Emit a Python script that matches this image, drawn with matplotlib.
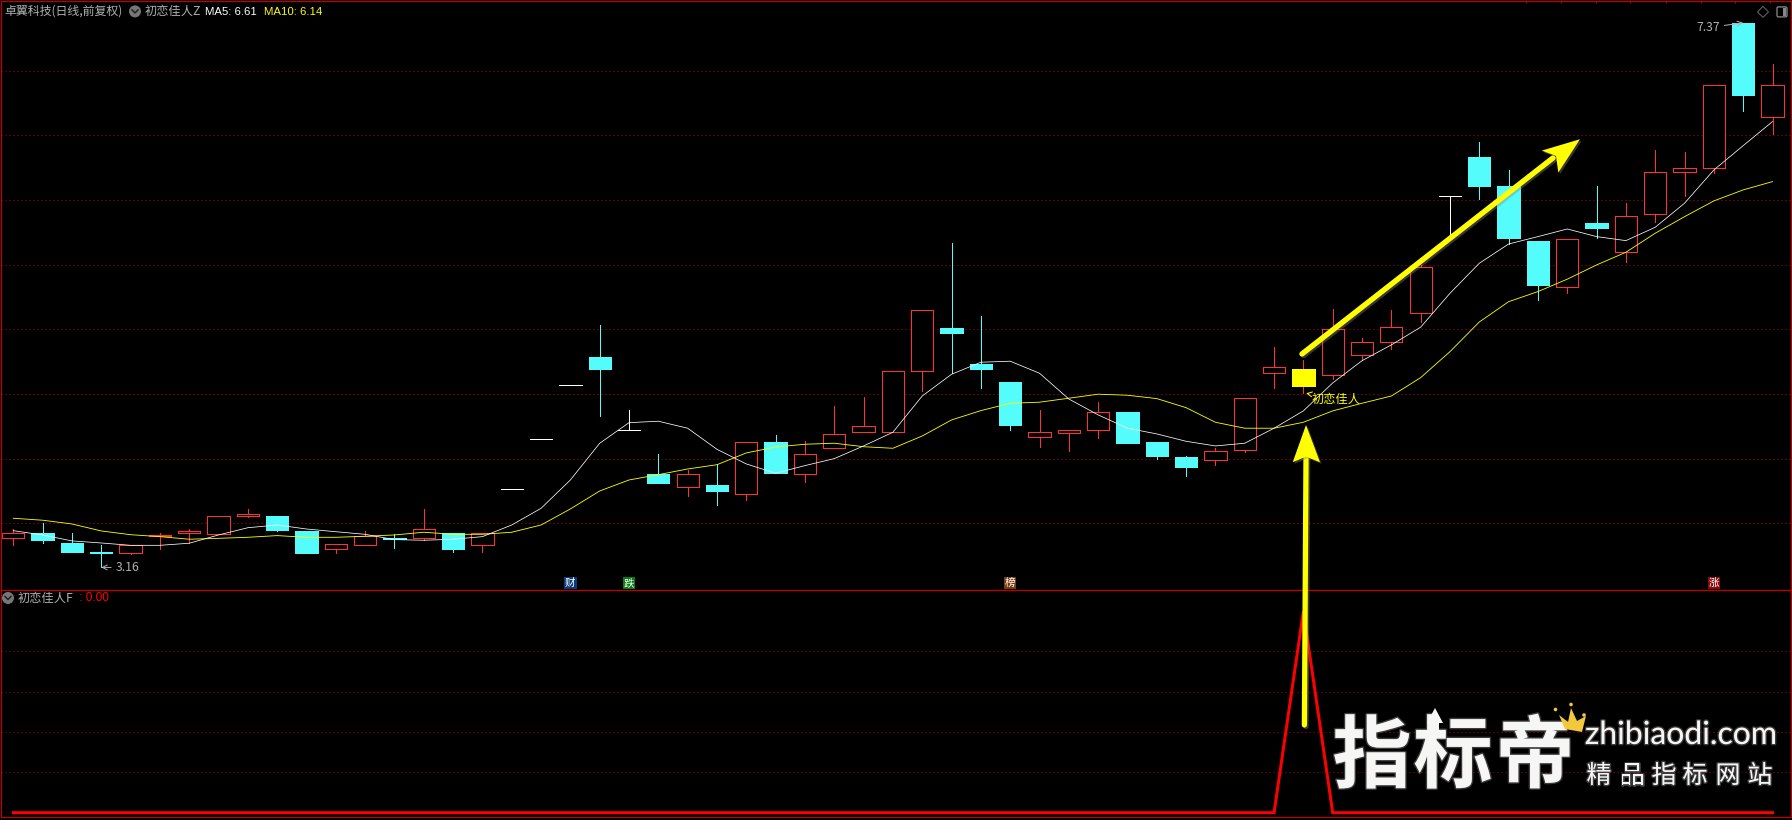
import numpy as np
import matplotlib
matplotlib.use('Agg')
import matplotlib.pyplot as plt
from matplotlib.patches import Polygon, Circle, Rectangle, FancyBboxPatch
import matplotlib.patheffects as pe

plt.rcParams['font.family'] = ['Noto Sans CJK SC', 'DejaVu Sans']

#---- chart data
opens = [3.39, 3.43, 3.35, 3.28, 3.27, 3.40, 3.43, 3.42, 3.56, 3.56,
         3.44, 3.30, 3.33, 3.39, 3.39, 3.43, 3.33, 3.77, 4.15, 4.57,
         4.79, 4.22, 3.88, 3.78, 3.80, 3.73, 4.13, 3.88, 4.08, 4.21,
         4.21, 4.68, 5.01, 4.73, 4.59, 4.17, 4.20, 4.22, 4.36, 4.13,
         4.01, 3.99, 4.07, 4.66, 4.69, 4.65, 4.80, 4.90, 5.13, 6.03,
         6.33, 6.11, 5.68, 5.33, 5.82, 5.60, 5.89, 6.22, 6.25, 7.37,
         6.64]
closes = [3.43, 3.37, 3.28, 3.27, 3.33, 3.41, 3.44, 3.56, 3.57, 3.45,
          3.27, 3.34, 3.40, 3.38, 3.46, 3.30, 3.43, 3.77, 4.15, 4.57,
          4.69, 4.22, 3.81, 3.88, 3.75, 4.13, 3.89, 4.04, 4.19, 4.25,
          4.68, 5.15, 4.97, 4.69, 4.26, 4.21, 4.22, 4.36, 4.12, 4.02,
          3.94, 4.06, 4.47, 4.71, 4.56, 5.00, 4.90, 5.02, 5.48, 6.03,
          6.11, 5.71, 5.34, 5.70, 5.78, 5.88, 6.22, 6.25, 6.89, 6.81,
          6.89]
highs = [3.46, 3.50, 3.43, 3.33, 3.33, 3.43, 3.46, 3.56, 3.61, 3.56,
         3.44, 3.34, 3.44, 3.42, 3.61, 3.43, 3.43, 3.77, 4.15, 4.57,
         5.03, 4.38, 4.04, 3.91, 3.96, 4.13, 4.18, 4.14, 4.41, 4.48,
         4.68, 5.15, 5.67, 5.10, 4.59, 4.38, 4.22, 4.44, 4.36, 4.13,
         4.02, 4.08, 4.47, 4.86, 4.76, 5.16, 4.93, 5.15, 5.50, 6.03,
         6.45, 6.23, 5.68, 5.70, 6.11, 5.98, 6.39, 6.37, 6.89, 7.37,
         7.05]
lows = [3.33, 3.35, 3.28, 3.16, 3.26, 3.30, 3.35, 3.42, 3.55, 3.44,
        3.27, 3.27, 3.33, 3.31, 3.37, 3.28, 3.28, 3.77, 4.15, 4.57,
        4.33, 4.22, 3.81, 3.71, 3.64, 3.68, 3.89, 3.82, 4.08, 4.21,
        4.21, 4.52, 4.66, 4.55, 4.22, 4.09, 4.06, 4.16, 4.12, 4.00,
        3.87, 3.95, 4.05, 4.55, 4.51, 4.62, 4.76, 4.85, 5.06, 5.72,
        6.01, 5.66, 5.23, 5.28, 5.71, 5.52, 5.83, 6.03, 6.21, 6.69,
        6.51]
ma5 = [3.444, 3.411, 3.365, 3.349, 3.331, 3.331, 3.347, 3.411, 3.467, 3.488,
       3.457, 3.436, 3.416, 3.375, 3.370, 3.378, 3.398, 3.488, 3.617, 3.836,
       4.120, 4.279, 4.290, 4.236, 4.073, 3.960, 3.888, 3.947, 4.001, 4.099,
       4.205, 4.485, 4.653, 4.746, 4.754, 4.661, 4.462, 4.339, 4.236, 4.192,
       4.135, 4.099, 4.120, 4.236, 4.370, 4.586, 4.758, 4.880, 5.017, 5.279,
       5.511, 5.660, 5.717, 5.776, 5.717, 5.686, 5.789, 5.975, 6.232, 6.420,
       6.606]
ma10 = [3.540, 3.525, 3.496, 3.442, 3.413, 3.398, 3.378, 3.385, 3.393, 3.406,
        3.393, 3.393, 3.401, 3.411, 3.432, 3.416, 3.416, 3.432, 3.488, 3.612,
        3.751, 3.836, 3.877, 3.921, 3.954, 4.045, 4.091, 4.112, 4.120, 4.093,
        4.081, 4.176, 4.300, 4.372, 4.429, 4.437, 4.468, 4.499, 4.491, 4.465,
        4.395, 4.282, 4.236, 4.236, 4.282, 4.370, 4.429, 4.485, 4.627, 4.828,
        5.057, 5.214, 5.292, 5.388, 5.498, 5.596, 5.743, 5.871, 5.993, 6.078,
        6.142]
signal = [0] * 61
signal[44] = 1

tag_idx = [19, 21, 34, 58]
tag_text = ['财', '跌', '榜', '涨']
tag_bg = ['#0a3a78', '#0a7a10', '#7a3a10', '#8a0a0a']

W, H = 1792, 820
RED = '#ff3232'
CYAN = '#54fcfc'
YEL = '#ffff00'
FRAME = '#c00000'
PX = 0.72  # one pixel in points at dpi 100


def px_axes(left, top, right, bottom):
    return fig.add_axes([left / W, 1 - bottom / H, (right - left) / W, (bottom - top) / H])


fig = plt.figure(figsize=(W / 100, (H + 0.1) / 100), dpi=100, facecolor='black')
ax = px_axes(1, 1.5, 1791, 590.3)
ax2 = px_axes(1, 590.3, 1791, 817.3)

x = np.arange(len(opens))
xlim = ((1 - 13.3) / 29.32, (1791 - 13.3) / 29.32)

for a in (ax, ax2):
    a.set_facecolor('black')
    a.set_xlim(*xlim)
    a.tick_params(length=0, labelleft=False, labelbottom=False)
    a.set_xticks([])
    for s in a.spines.values():
        s.set_color(FRAME)
        s.set_linewidth(PX * 1.2)
    a.set_axisbelow(True)

ax.set_ylim(7.5465 - 0.00773 * 590.3, 7.5465 - 0.00773 * 1.5)
ax.set_yticks(np.arange(3.5, 7.5, 0.5))
ax.grid(axis='y', color=FRAME, ls=(0, (1, 3)), lw=PX)

ax2.set_ylim(-4.6 / 201.5, 222.4 / 201.5)
ax2.set_yticks([0.2, 0.4, 0.6, 0.8])
ax2.grid(axis='y', color='#a80000', ls=(0, (1, 3)), lw=PX)

#---- candles
sig_i = int(np.argmax(signal))
edge, face = [], []
for i in x:
    if i == sig_i:
        edge.append(YEL); face.append(YEL)
    elif opens[i] == closes[i]:
        edge.append('white'); face.append('white')
    elif closes[i] > opens[i]:
        edge.append(RED); face.append('black')
    else:
        edge.append(CYAN); face.append(CYAN)

wick = [RED if i == sig_i else e for i, e in zip(x, edge)]
ax.vlines(x, lows, highs, colors=wick, lw=PX * 0.95, zorder=2, antialiased=False)
bot = np.minimum(opens, closes)
hgt = np.abs(np.array(closes) - np.array(opens))
ax.bar(x, hgt, bottom=bot, width=0.76, facecolor=face, edgecolor=edge,
       linewidth=PX * 0.95, zorder=2.5, antialiased=False)

# thin lines: aliased strokes come out heavy, so keep them under one pixel
ax.plot(x, ma10, color=YEL, lw=PX * 0.85, zorder=3)
ax.plot(x, ma5, color='white', lw=PX * 0.75, zorder=3.1)

#---- tags above the divider
for i, t, c in zip(tag_idx, tag_text, tag_bg):
    ax.text(i, 3.04, t, color='white', fontsize=7.6, ha='center', va='center', zorder=5,
            bbox=dict(boxstyle='square,pad=0.1', fc=c, ec='none'))

#---- high / low / signal labels
GREY = '#b0b0b0'
ax.annotate('3.16', xy=(3, lows[3]), xytext=(14, 0), textcoords='offset pixels',
            color=GREY, fontsize=8.8, va='center', ha='left',
            arrowprops=dict(arrowstyle='->', color=GREY, lw=PX, shrinkA=1, shrinkB=0))
ax.annotate('7.37', xy=(59, highs[59]), xytext=(-23, -5), textcoords='offset pixels',
            color=GREY, fontsize=8.8, va='center', ha='right', zorder=6,
            arrowprops=dict(arrowstyle='->', color=GREY, lw=PX, shrinkA=1, shrinkB=0))
ax.annotate('初恋佳人', xy=(sig_i, lows[sig_i]), xytext=(8, -6), textcoords='offset pixels',
            color=YEL, fontsize=8.8, va='center', ha='left', zorder=6,
            arrowprops=dict(arrowstyle='->', color=YEL, lw=PX, shrinkA=0, shrinkB=2))

ax2.plot(x, signal, color='#ff0000', lw=PX * 3, zorder=3, solid_joinstyle='miter')

#---- overlay in pixel coordinates: header text, hand drawn arrows, watermark
ov = fig.add_axes([0, 0, 1, 1], zorder=10)
ov.set_xlim(0, W)
ov.set_ylim(H, 0)
ov.axis('off')
ov.patch.set_alpha(0)

ov.text(4, 11.5, '卓翼科技(日线,前复权)', color=GREY, fontsize=8.6, va='center')
ov.text(145, 11.5, '初恋佳人Z', color=GREY, fontsize=8.8, va='center')
ov.text(205, 11.5, 'MA5: 6.61', color='white', fontsize=8.2, va='center', family='Liberation Sans')
ov.text(264, 11.5, 'MA10: 6.14', color=YEL, fontsize=8.2, va='center', family='Liberation Sans')
ov.text(18, 598, '初恋佳人F', color=GREY, fontsize=8.8, va='center')
ov.text(76, 598, ' : 0.00', color='#ff0000', fontsize=8.6, va='center', family='Liberation Sans')


def chevron(cx, cy):
    ov.add_patch(Circle((cx, cy), 6, fc='#777777', ec='none'))
    ov.plot([cx - 3, cx, cx + 3], [cy - 1.5, cy + 1.5, cy - 1.5], color='#222222', lw=1.1)


chevron(135, 11.5)
chevron(8, 598)

# small marks along the top edge, and the two window buttons
ov.vlines([1526, 1560.6, 1595.5, 1630, 1665.7, 1700.5, 1735, 1770], 1, 3, color=FRAME, lw=PX)
ov.add_patch(Polygon([(1763, 6.5), (1768.5, 12), (1763, 17.5), (1757.5, 12)], fc='none', ec='#666666', lw=PX))
ov.add_patch(FancyBboxPatch((1777, 7), 10, 10, boxstyle='round,pad=0,rounding_size=1.5', fc='none', ec='#888888', lw=PX * 1.3))
ov.add_patch(Rectangle((1783, 8), 3, 8, fc='#888888', ec='none'))

# big yellow arrows
shadow = [pe.SimpleLineShadow(offset=(1.2, -1.2), shadow_color='#888888', alpha=0.4), pe.Normal()]
ov.plot([1304.4, 1306], [725, 458], color=YEL, lw=3.8, solid_capstyle='round', path_effects=shadow, zorder=4)
ov.plot([1302, 1553], [354, 158], color=YEL, lw=3.9, solid_capstyle='round', path_effects=shadow, zorder=4)
patch_sh = [pe.SimplePatchShadow(offset=(1.2, -1.2), shadow_rgbFace='#888888', alpha=0.4), pe.Normal()]
ov.add_patch(Polygon([(1306, 425), (1320, 462.3), (1306, 456.7), (1292.7, 462.3)], fc=YEL, ec='none',
                     path_effects=patch_sh, zorder=4))
ov.add_patch(Polygon([(1580, 139.3), (1558.3, 172.7), (1556, 156), (1541.7, 150.7)], fc=YEL, ec='none',
                     path_effects=patch_sh, zorder=4))

# watermark
glow = [pe.withStroke(linewidth=2, foreground='#555555', alpha=0.7)]
for ch, cx in zip('指标帝', [1372, 1453, 1535]):
    ov.text(cx, 758, ch, color='#f6f6f4', fontsize=57, weight='black', ha='center', va='center',
            path_effects=glow, zorder=6)
ov.add_patch(Polygon([(1435, 708), (1443, 723), (1439, 723), (1439, 735), (1431, 735), (1431, 723), (1427, 723)],
                     fc='#f6f6f4', ec='none', zorder=6))
ov.text(1681, 735, 'zhibiaodi.com', color='#f6f6f4', fontsize=23, family='Lato', ha='center', va='center',
        path_effects=glow, zorder=6)
for ch, cx in zip('精品指标网站', [1599, 1632, 1664, 1695, 1728, 1760]):
    ov.text(cx, 776, ch, color='#f6f6f4', fontsize=18, ha='center', va='center', path_effects=glow, zorder=6)
ov.add_patch(Polygon([(1559, 715), (1568, 722), (1571, 708), (1577, 721), (1586, 716), (1582, 732), (1565, 729)],
                     fc='#f2c83c', ec='none', zorder=7))
for cx, cy in [(1555.5, 709.5), (1571, 704.5), (1584, 715)]:
    ov.add_patch(Circle((cx, cy), 1.8, fc='#f2c83c', ec='none', zorder=7))

fig.savefig('out.png', dpi=100, facecolor='black')
